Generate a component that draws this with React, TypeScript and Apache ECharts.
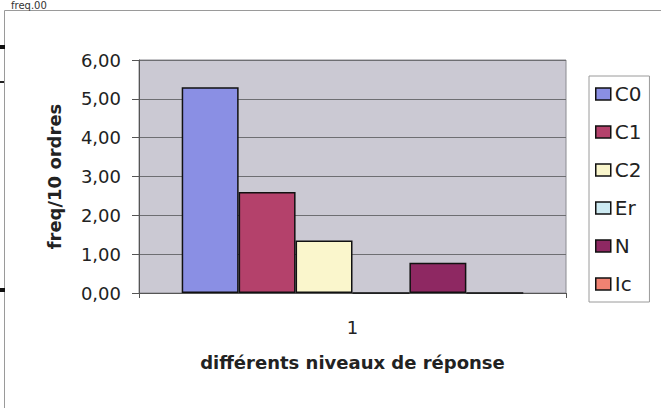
import React, { useEffect, useRef } from "react";
import * as echarts from "echarts";

const categories = ["1"];
const seriesNames = ["C0", "C1", "C2", "Er", "N", "Ic"];
const seriesValues = [[5.3], [2.6], [1.35], [0], [0.78], [0]];
const seriesColors = ["#8a8fe4", "#b4416b", "#faf6cc", "#cdeaf2", "#8e2862", "#f08272"];
const yTicks = [0, 1, 2, 3, 4, 5, 6];

const FONT = "DejaVu Sans";

export default function App() {
  const ref = useRef<HTMLDivElement>(null);
  useEffect(() => {
    if (!ref.current) return;
    const chart = echarts.init(ref.current, null, { renderer: "svg" });
    const option: any = {
      animation: false,
      backgroundColor: "#ffffff",
      textStyle: { fontFamily: FONT },
      grid: {
        left: 139,
        top: 60,
        width: 427,
        height: 233,
        show: true,
        backgroundColor: "#cbc9d3",
        borderColor: "#8a8a90",
        borderWidth: 1,
      },
      legend: {
        orient: "vertical",
        left: 589,
        top: 76,
        padding: [8, 8, 8, 6],
        itemWidth: 15,
        itemHeight: 12,
        itemGap: 18,
        icon: "rect",
        borderColor: "#9a9a9a",
        borderWidth: 1,
        backgroundColor: "#ffffff",
        itemStyle: { borderColor: "#111", borderWidth: 1.5 },
        textStyle: { fontFamily: FONT, fontSize: 20, color: "#222", lineHeight: 16, padding: [0, 0, 0, -1] },
        data: seriesNames,
      },
      xAxis: {
        type: "category",
        data: categories,
        axisLine: { show: true, lineStyle: { color: "#555", width: 1 } },
        axisTick: { show: true, length: 5, lineStyle: { color: "#555" } },
        axisLabel: { fontFamily: FONT, fontSize: 18, color: "#222", margin: 25 },
        name: "différents niveaux de réponse",
        nameLocation: "middle",
        nameGap: 60,
        nameTextStyle: { fontFamily: FONT, fontSize: 18, fontWeight: "bold", color: "#222" },
      },
      yAxis: {
        type: "value",
        min: yTicks[0],
        max: yTicks[yTicks.length - 1],
        interval: 1,
        axisLine: { show: true, lineStyle: { color: "#555", width: 1 } },
        axisTick: { show: true, inside: false, length: 7, lineStyle: { color: "#555" } },
        axisLabel: {
          fontFamily: FONT,
          fontSize: 18,
          color: "#222",
          margin: 18,
          formatter: (v: number) => v.toFixed(2).replace(".", ","),
        },
        splitLine: { show: true, lineStyle: { color: "#6e6e72", width: 1 } },
        name: "freq/10 ordres",
        nameLocation: "middle",
        nameGap: 76,
        nameTextStyle: { fontFamily: FONT, fontSize: 18, fontWeight: "bold", color: "#222" },
      },
      series: seriesNames.map((name, i) => ({
        name,
        type: "bar",
        data: seriesValues[i],
        barGap: "0%",
        barCategoryGap: "20%",
        itemStyle: { color: seriesColors[i], borderColor: "#111", borderWidth: 1.5 },
      })),
      graphic: [
        {
          type: "rect",
          shape: { x: 4.5, y: 10.5, width: 700, height: 500 },
          style: { fill: "none", stroke: "#9a9a9a", lineWidth: 1 },
          silent: true,
          z: -1,
        },
        {
          type: "text",
          x: 11,
          y: 0,
          style: { text: "freq.00", font: `10px ${FONT}`, fill: "#333", textVerticalAlign: "top" },
        },
        { type: "rect", shape: { x: 0, y: 45, width: 5, height: 4 }, style: { fill: "#111" } },
        { type: "rect", shape: { x: 0, y: 81, width: 4, height: 2 }, style: { fill: "#222" } },
        { type: "rect", shape: { x: 0, y: 288, width: 5, height: 4 }, style: { fill: "#111" } },
      ],
    };
    chart.setOption(option);
    return () => chart.dispose();
  }, []);
  return (
    <div
      ref={ref}
      style={{ position: "fixed", left: 0, top: 0, width: 661, height: 408 }}
    />
  );
}
